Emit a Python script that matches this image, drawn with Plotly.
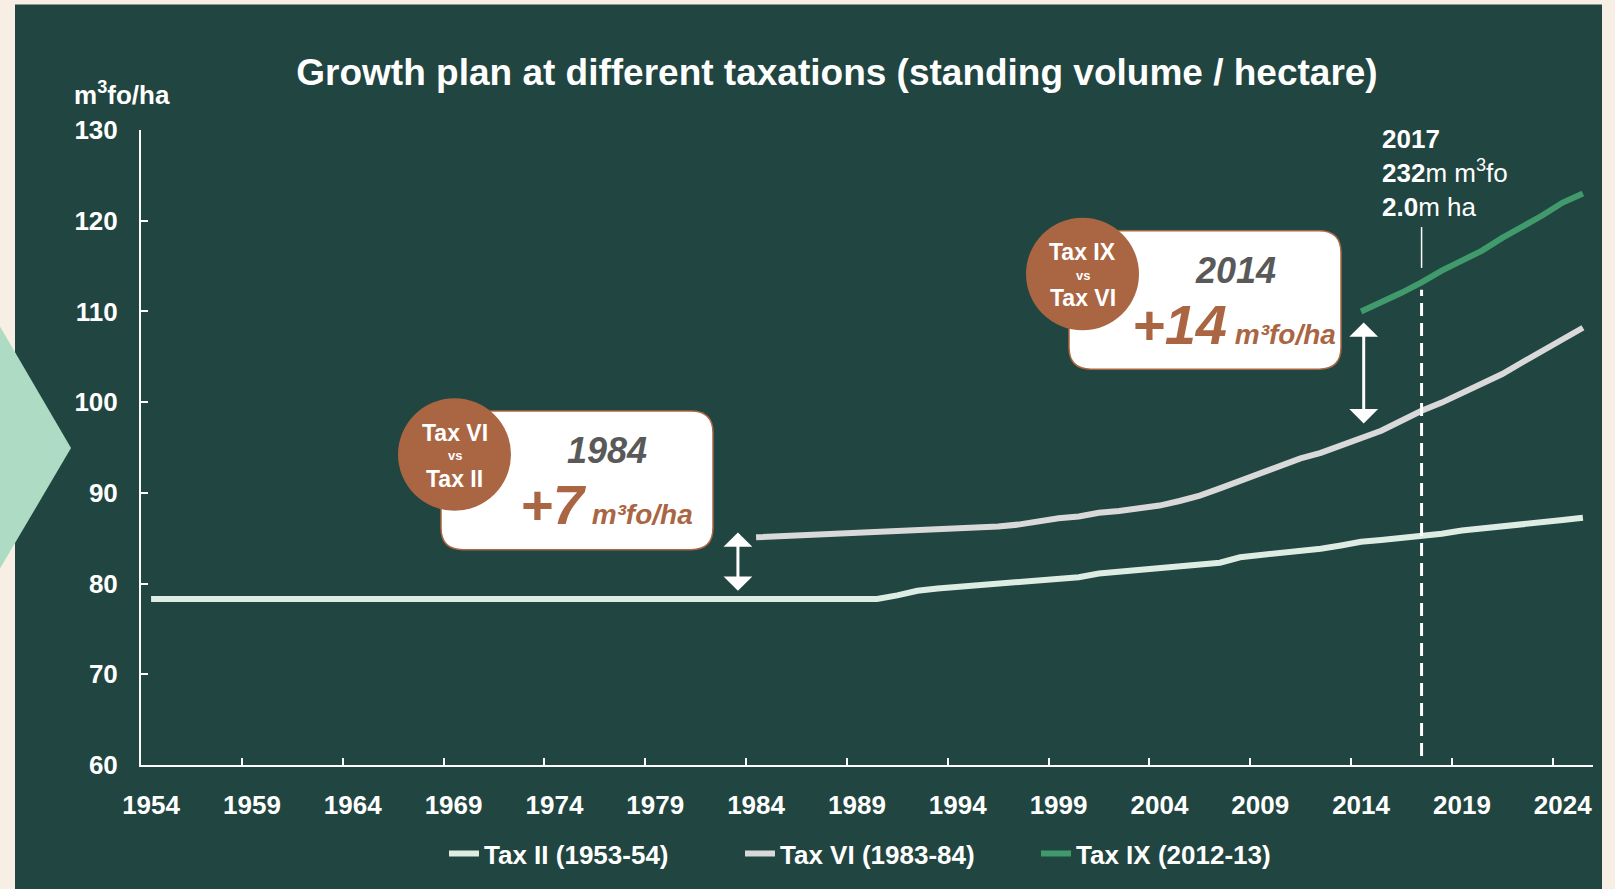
import plotly.graph_objects as go

# ---------------- data ----------------
YEARS_II = list(range(1954, 2026))
TAX_II = [78.3, 78.3, 78.3, 78.3, 78.3, 78.3, 78.3, 78.3, 78.3, 78.3,
          78.3, 78.3, 78.3, 78.3, 78.3, 78.3, 78.3, 78.3, 78.3, 78.3,
          78.3, 78.3, 78.3, 78.3, 78.3, 78.3, 78.3, 78.3, 78.3, 78.3,
          78.3, 78.3, 78.3, 78.3, 78.3, 78.3, 78.3,
          78.7, 79.2, 79.45, 79.65, 79.85, 80.0, 80.2, 80.4, 80.55, 80.7,
          81.1, 81.3, 81.45, 81.65, 81.8, 82.0, 82.3, 82.9, 83.1, 83.3,
          83.55, 83.85, 84.2, 84.6, 84.8, 85.0, 85.2, 85.5, 85.85, 86.05,
          86.25, 86.45, 86.65, 87.0, 87.25]
YEARS_VI = list(range(1984, 2026))
TAX_VI = [85.1, 85.2, 85.3, 85.4, 85.5, 85.6, 85.7, 85.8, 85.9, 86.0,
          86.05, 86.1, 86.3, 86.5, 86.9, 87.2, 87.4, 87.8, 88.0, 88.3,
          88.6, 89.1, 89.7, 90.5, 91.3, 92.1, 92.9, 93.8, 94.4, 95.2,
          95.9, 96.85, 97.95, 99.05, 99.95, 101.05, 102.1, 103.1, 104.4, 105.7,
          107.0, 108.2]
YEARS_IX = list(range(2014, 2026))
TAX_IX = [110.0, 110.95, 112.05, 113.2, 114.5, 115.6, 116.7, 118.1, 119.3, 120.6,
          122.0, 123.0]
SERIES_NAMES = ["Tax II (1953-54)", "Tax VI (1983-84)", "Tax IX (2012-13)"]

X_TICK_YEARS = list(range(1954, 2025, 5))
X_TICK_LABELS = [str(y) for y in X_TICK_YEARS]
X_BOUNDARY_TICKS = [y - 0.5 for y in X_TICK_YEARS[1:]]
Y_TICKS = [60, 70, 80, 90, 100, 110, 120, 130]
X_RANGE = [1953.5, 2025.5]
Y_RANGE = [60, 130]

MARKER_YEAR = 2017
COMPARE_1 = dict(x=1983.1, top=85.8, bottom=79.2)
COMPARE_2 = dict(x=2014.13, top=108.95, bottom=97.65)
LEADER_Y = (114.8, 119.3)
DASH_Y = (61.0, 112.4)

# ---------------- style ----------------
W, H = 1615, 889
L, R, T, B = 141, 1593, 130, 767
CREAM = "#F7EFE3"
PANEL = "#214540"
MINT = "#AEDBC4"
BROWN = "#AA6643"
GREY_TXT = "#595959"
WHITE = "#FFFFFF"
COL_II, COL_VI, COL_IX = "#DDEDE3", "#D9D9D9", "#419A6C"
FONT = "Liberation Sans, Arial, sans-serif"


def px(x):
    return (x - L) / (R - L)


def py(y):
    return (B - y) / (B - T)


def rounded_rect(x0, y0, x1, y1, r):
    pts = [("M", [(x0 + r, y0)]), ("L", [(x1 - r, y0)]), ("Q", [(x1, y0), (x1, y0 + r)]),
           ("L", [(x1, y1 - r)]), ("Q", [(x1, y1), (x1 - r, y1)]), ("L", [(x0 + r, y1)]),
           ("Q", [(x0, y1), (x0, y1 - r)]), ("L", [(x0, y0 + r)]), ("Q", [(x0, y0), (x0 + r, y0)])]
    s = ""
    for cmd, ps in pts:
        s += cmd + " ".join(f"{px(a):.5f},{py(b):.5f}" for a, b in ps) + " "
    return s + "Z"


fig = go.Figure()
fig.add_trace(go.Scatter(x=YEARS_II, y=TAX_II, name=SERIES_NAMES[0], mode="lines",
                         line=dict(color=COL_II, width=6), hoverinfo="skip"))
fig.add_trace(go.Scatter(x=YEARS_VI, y=TAX_VI, name=SERIES_NAMES[1], mode="lines",
                         line=dict(color=COL_VI, width=6), hoverinfo="skip"))
fig.add_trace(go.Scatter(x=YEARS_IX, y=TAX_IX, name=SERIES_NAMES[2], mode="lines",
                         line=dict(color=COL_IX, width=6), hoverinfo="skip"))

shapes = [
    dict(type="rect", xref="paper", yref="paper", x0=px(15), x1=px(1602), y0=py(895), y1=py(4),
         fillcolor=PANEL, line=dict(width=0), layer="below"),
    dict(type="path", xref="paper", yref="paper",
         path=f"M{px(0)},{py(327)} L{px(71)},{py(449)} L{px(0)},{py(570)} Z",
         fillcolor=MINT, line=dict(width=0), layer="below"),
    # 2017 marker lines
    dict(type="line", xref="x", yref="y", x0=MARKER_YEAR, x1=MARKER_YEAR,
         y0=LEADER_Y[0], y1=LEADER_Y[1], line=dict(color=WHITE, width=1.5), layer="above"),
    dict(type="line", xref="x", yref="y", x0=MARKER_YEAR, x1=MARKER_YEAR,
         y0=DASH_Y[0], y1=DASH_Y[1], line=dict(color=WHITE, width=3, dash="13px,7px"), layer="above"),
]

annotations = []

# callout boxes
for (bx, by, circ_lines, year_txt, delta_txt) in [
    (441, 412, ("Tax VI", "Tax II"), "1984", "+7"),
    (1069, 231, ("Tax IX", "Tax VI"), "2014", "+14"),
]:
    shapes.append(dict(type="path", xref="paper", yref="paper",
                       path=rounded_rect(bx, by, bx + 272, by + 139, 22),
                       fillcolor=WHITE, line=dict(color=BROWN, width=1.5), layer="above"))
    cx, cy = bx + 13.5, by + 43.5
    shapes.append(dict(type="circle", xref="paper", yref="paper",
                       x0=px(cx - 56.5), x1=px(cx + 56.5), y0=py(cy + 56.5), y1=py(cy - 56.5),
                       fillcolor=BROWN, line=dict(width=0), layer="above"))
    annotations += [
        dict(xref="paper", yref="paper", x=px(cx), y=py(cy - 22), text=f"<b>{circ_lines[0]}</b>",
             showarrow=False, xanchor="center", yanchor="middle",
             font=dict(family=FONT, size=23, color=WHITE)),
        dict(xref="paper", yref="paper", x=px(cx), y=py(cy + 1), text="<b>vs</b>",
             showarrow=False, xanchor="center", yanchor="middle",
             font=dict(family=FONT, size=13, color=WHITE)),
        dict(xref="paper", yref="paper", x=px(cx), y=py(cy + 24.5), text=f"<b>{circ_lines[1]}</b>",
             showarrow=False, xanchor="center", yanchor="middle",
             font=dict(family=FONT, size=23, color=WHITE)),
        dict(xref="paper", yref="paper", x=px(bx + 166), y=py(by + 40), text=f"<b><i>{year_txt}</i></b>",
             showarrow=False, xanchor="center", yanchor="middle",
             font=dict(family=FONT, size=36, color=GREY_TXT)),
        dict(xref="paper", yref="paper", x=px(bx + 165), y=py(by + 94),
             text=f"<b><i>{delta_txt}<span style='font-size:28px'> m³fo/ha</span></i></b>",
             showarrow=False, xanchor="center", yanchor="middle",
             font=dict(family=FONT, size=56, color=BROWN)),
    ]

# double arrows
for c in (COMPARE_1, COMPARE_2):
    annotations.append(dict(x=c["x"], y=c["bottom"], ax=c["x"], ay=c["top"], xref="x", yref="y",
                            axref="x", ayref="y", text="", showarrow=True, arrowside="end+start",
                            arrowhead=1, startarrowhead=1, arrowsize=1.6, startarrowsize=1.6,
                            arrowwidth=3, arrowcolor=WHITE, standoff=0, startstandoff=0))

# 2017 text
annotations.append(dict(xref="paper", yref="paper", x=px(1380), y=py(173),
                        text="<b>2017</b><br><b>232</b>m m<sup>3</sup>fo<br><b>2.0</b>m ha",
                        showarrow=False, xanchor="left", yanchor="middle", align="left",
                        font=dict(family=FONT, size=26, color=WHITE)))
# y-axis unit
annotations.append(dict(xref="paper", yref="paper", x=px(72), y=py(93),
                        text="<b>m<sup>3</sup>fo/ha</b>", showarrow=False,
                        xanchor="left", yanchor="middle",
                        font=dict(family=FONT, size=26, color=WHITE)))

fig.update_layout(
    width=W, height=H,
    margin=dict(l=L, r=W - R, t=T, b=H - B, pad=0),
    paper_bgcolor=CREAM, plot_bgcolor="rgba(0,0,0,0)",
    title=dict(text="<b>Growth plan at different taxations (standing volume / hectare)</b>",
               x=837 / W, y=1 - 72 / H, xanchor="center", yanchor="middle",
               font=dict(family=FONT, size=37, color=WHITE)),
    showlegend=True,
    legend=dict(orientation="h", x=px(444), y=py(856), xanchor="left", yanchor="middle",
                font=dict(family=FONT, size=26, color=WHITE, weight="bold"),
                bgcolor="rgba(0,0,0,0)", itemwidth=30, entrywidth=251, entrywidthmode="pixels"),
    xaxis=dict(range=X_RANGE, tickmode="array", tickvals=X_TICK_YEARS, ticktext=X_TICK_LABELS,
               ticks="", showgrid=False, zeroline=False, showline=True, linecolor=WHITE, linewidth=2,
               tickfont=dict(family=FONT, size=26, color=WHITE, weight="bold"),
               ticklabelstandoff=16, automargin=False,
               minor=dict(tickmode="array", tickvals=X_BOUNDARY_TICKS, ticks="inside",
                          ticklen=7, tickwidth=2, tickcolor=WHITE, showgrid=False)),
    yaxis=dict(range=Y_RANGE, tickmode="array", tickvals=Y_TICKS, ticks="inside", ticklen=7,
               tickwidth=2, tickcolor=WHITE, showgrid=False, zeroline=False, showline=True,
               linecolor=WHITE, linewidth=2,
               tickfont=dict(family=FONT, size=26, color=WHITE, weight="bold"),
               ticklabelstandoff=16, automargin=False),
    shapes=shapes, annotations=annotations,
)

fig.write_html("out.html")
